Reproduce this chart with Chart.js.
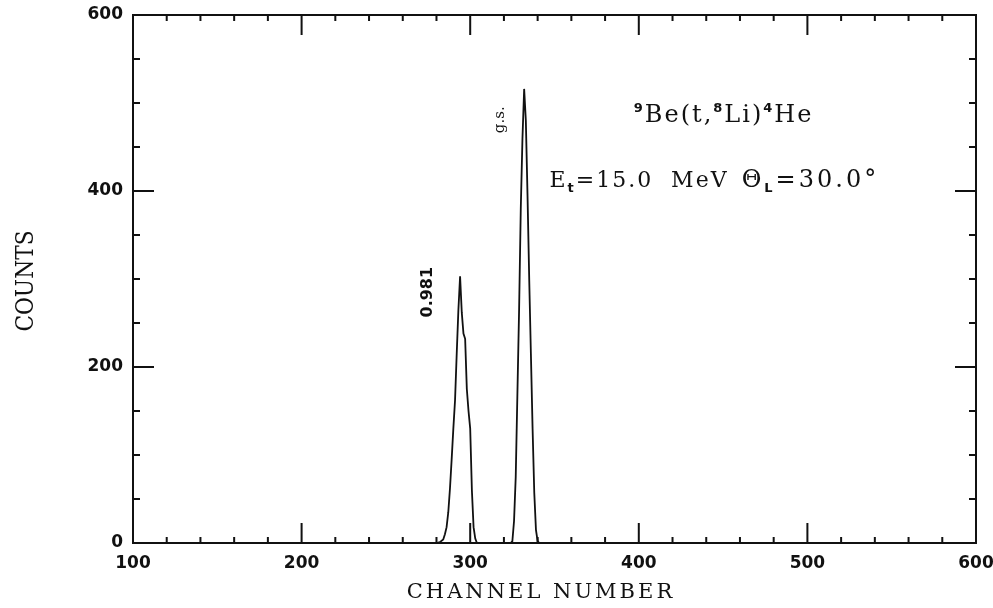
<!DOCTYPE html>
<html>
<head>
<meta charset="utf-8">
<script src="https://cdn.jsdelivr.net/npm/chart.js@4/dist/chart.umd.min.js"></script>
<style>
  body { margin: 0; background: #fff; }
  canvas { display: block; }
</style>
</head>
<body>
<canvas id="spectrum" width="993" height="608"></canvas>
<script>
// spectrum (channel -> counts)
const channels = [100, 270, 280, 282, 284, 285, 286, 287, 288, 289, 290, 291, 292, 293, 294, 295, 296, 297, 298, 299, 300, 301, 302, 303, 304,
  324, 325, 326, 327, 328, 329, 330, 331, 332, 333, 334, 335, 336, 337, 338, 339, 340, 341, 600];
const counts = [0, 0, 0, 1, 4, 10, 18, 35, 62, 95, 130, 162, 215, 265, 303, 262, 238, 232, 175, 150, 130, 60, 18, 5, 0,
  0, 2, 25, 75, 170, 265, 380, 460, 516, 480, 395, 300, 215, 130, 57, 15, 2, 0, 0];

const xTicks = [100, 200, 300, 400, 500, 600];
const yTicks = [0, 200, 400, 600];

const serif = "'DejaVu Serif', serif";
const sans = "'DejaVu Sans', sans-serif";

function drawRich(ctx, x, y, parts, spacing) {
  ctx.letterSpacing = spacing + "px";
  parts.forEach(p => {
    ctx.font = p.font;
    ctx.fillText(p.t, x, y + (p.dy || 0));
    x += ctx.measureText(p.t).width;
  });
  ctx.letterSpacing = "0px";
}

const frame = {
  id: "frame",
  beforeDraw(chart) {
    const ctx = chart.ctx;
    ctx.save();
    ctx.fillStyle = "#fff";
    ctx.fillRect(0, 0, chart.width, chart.height);
    ctx.restore();
  },
  afterDraw(chart) {
    const { ctx, chartArea: a, scales: { x, y } } = chart;
    ctx.save();
    ctx.strokeStyle = "#111";
    ctx.lineWidth = 2;
    ctx.strokeRect(a.left, a.top, a.right - a.left, a.bottom - a.top);

    ctx.beginPath();
    for (let v = x.min; v <= x.max; v += 20) {
      const px = x.getPixelForValue(v);
      const len = v % 100 === 0 ? 20 : 6;
      ctx.moveTo(px, a.bottom); ctx.lineTo(px, a.bottom - len);
      ctx.moveTo(px, a.top); ctx.lineTo(px, a.top + len);
    }
    for (let v = y.min; v <= y.max; v += 50) {
      const py = y.getPixelForValue(v);
      const len = v % 200 === 0 ? 21 : 7;
      ctx.moveTo(a.left, py); ctx.lineTo(a.left + len, py);
      ctx.moveTo(a.right, py); ctx.lineTo(a.right - len, py);
    }
    ctx.stroke();

    ctx.fillStyle = "#111";
    ctx.textBaseline = "alphabetic";

    // axis titles
    ctx.textAlign = "center";
    ctx.font = "21px " + serif;
    ctx.letterSpacing = "3px";
    ctx.fillText("CHANNEL NUMBER", 541, 598);
    ctx.letterSpacing = "0px";
    ctx.save();
    ctx.translate(33, 281);
    ctx.rotate(-Math.PI / 2);
    ctx.scale(0.87, 1);
    ctx.font = "25px " + serif;
    ctx.fillText("COUNTS", 0, 0);
    ctx.restore();

    // peak labels
    ctx.save();
    ctx.translate(x.getPixelForValue(275), y.getPixelForValue(285));
    ctx.rotate(-Math.PI / 2);
    ctx.textBaseline = "middle";
    ctx.font = "bold 16px " + sans;
    ctx.fillText("0.981", 0, 0);
    ctx.restore();

    ctx.save();
    ctx.translate(x.getPixelForValue(318), y.getPixelForValue(481));
    ctx.rotate(-Math.PI / 2);
    ctx.textBaseline = "middle";
    ctx.font = "15px " + serif;
    ctx.fillText("g.s.", 0, 0);
    ctx.restore();

    // reaction and kinematics
    ctx.textAlign = "left";
    const big = "24px " + serif;
    const sup = "bold 13px " + sans;
    drawRich(ctx, x.getPixelForValue(397), y.getPixelForValue(478), [
      { t: "9", font: sup, dy: -10 }, { t: "Be(t,", font: big },
      { t: "8", font: sup, dy: -10 }, { t: "Li)", font: big },
      { t: "4", font: sup, dy: -10 }, { t: "He", font: big }
    ], 2);

    const mid = "22px " + serif;
    const sub = "bold 13px " + sans;
    drawRich(ctx, x.getPixelForValue(347), y.getPixelForValue(404), [
      { t: "E", font: mid }, { t: "t", font: sub, dy: 5 }, { t: "=15.0  MeV", font: mid }
    ], 2);
    drawRich(ctx, x.getPixelForValue(461), y.getPixelForValue(404), [
      { t: "Θ", font: "24px " + serif }, { t: "L", font: sub, dy: 5 }, { t: "=30.0°", font: "24px " + serif }
    ], 3);
    ctx.restore();
  }
};

new Chart(document.getElementById("spectrum"), {
  type: "line",
  data: {
    datasets: [{
      data: channels.map((c, i) => ({ x: c, y: counts[i] })),
      borderColor: "#111",
      borderWidth: 1.8,
      pointRadius: 0,
      tension: 0,
      fill: false
    }]
  },
  options: {
    responsive: false,
    animation: false,
    layout: { padding: { top: 15, right: 17, left: 0, bottom: 0 } },
    plugins: { legend: { display: false }, tooltip: { enabled: false } },
    scales: {
      x: {
        type: "linear",
        min: 100,
        max: 600,
        afterFit: s => { s.height = 65; s.paddingLeft = 0; s.paddingRight = 0; },
        afterBuildTicks: s => { s.ticks = xTicks.map(v => ({ value: v })); },
        grid: { display: false, drawTicks: false },
        border: { display: false },
        ticks: { color: "#111", padding: 10, maxRotation: 0, font: { family: "DejaVu Sans", size: 17, weight: "bold" } }
      },
      y: {
        min: 0,
        max: 600,
        afterFit: s => { s.width = 133; s.paddingTop = 0; s.paddingBottom = 0; },
        afterBuildTicks: s => { s.ticks = yTicks.map(v => ({ value: v })); },
        grid: { display: false, drawTicks: false },
        border: { display: false },
        ticks: { color: "#111", padding: 10, font: { family: "DejaVu Sans", size: 17, weight: "bold" } }
      }
    }
  },
  plugins: [frame]
});
</script>
</body>
</html>
